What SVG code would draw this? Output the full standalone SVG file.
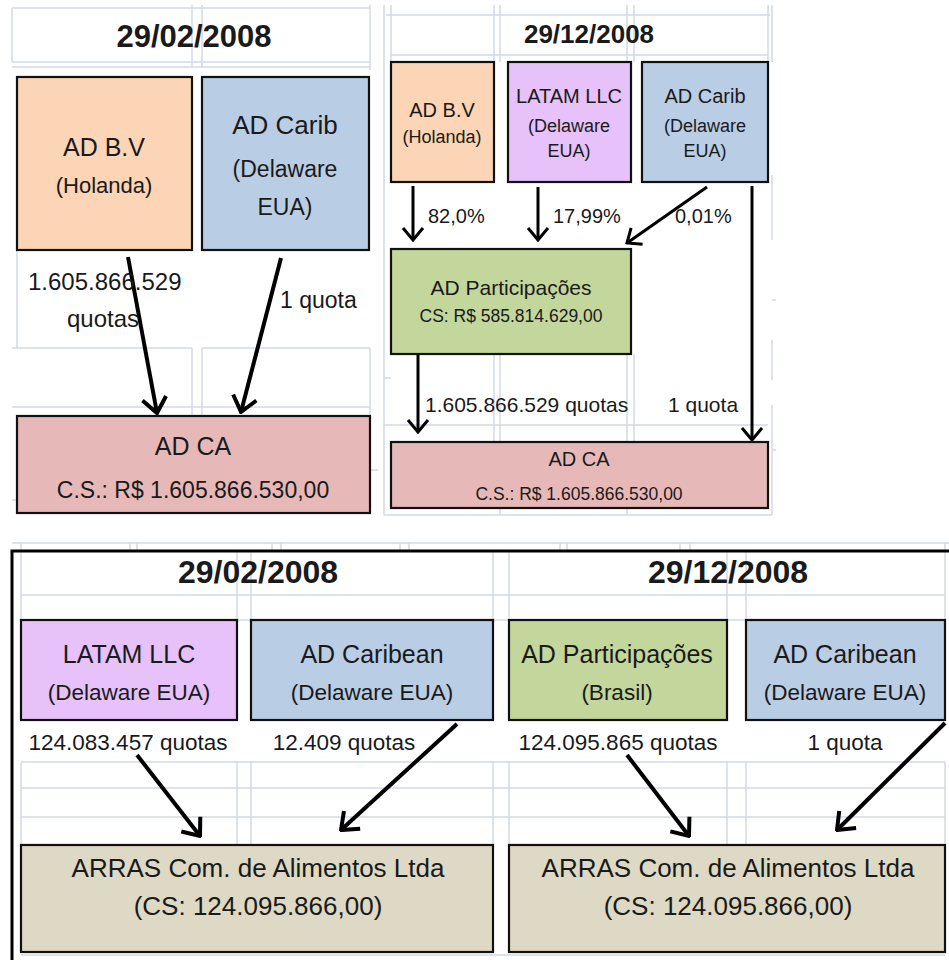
<svg xmlns="http://www.w3.org/2000/svg" width="949" height="960" viewBox="0 0 949 960">
<defs>
<style>
.grid{stroke:#d3d9e6;stroke-width:1.5;fill:none}
.box{stroke:#111;stroke-width:2.2}
.peach{fill:#fbd5b5}.blue{fill:#b9cde5}.lav{fill:#e6c1fa}.green{fill:#c3d69b}.pink{fill:#e6b9b8}.tan{fill:#ddd9c4}
text{font-family:"Liberation Sans",Arial,sans-serif;fill:#1a1a1a}
.c{text-anchor:middle}
.b{font-weight:bold}
.conn{stroke:#000;fill:none}
.thick{stroke-width:4}
.thin{stroke-width:3}
</style>
<marker id="ah" markerUnits="userSpaceOnUse" viewBox="-18 -15 20 30" refX="0" refY="0" markerWidth="20" markerHeight="30" orient="auto">
<path d="M-15,-12 L0,0 L-15,12" fill="none" stroke="#000" stroke-width="4" stroke-linejoin="miter"/>
</marker>
<marker id="as" markerUnits="userSpaceOnUse" viewBox="-15 -12 17 24" refX="0" refY="0" markerWidth="17" markerHeight="24" orient="auto">
<path d="M-12,-10 L0,0 L-12,10" fill="none" stroke="#000" stroke-width="3" stroke-linejoin="miter"/>
</marker>
</defs>

<g id="gridlines">
<!-- top-left -->
<path class="grid" d="M12,8 H370 M12,62 H370 M12,67 H370 M12,8 V62 M192,5 V67 M202,5 V67 M370,5 V70 M17,250 V348 M12,348 H192 M202,348 H370 M192,348 V416 M202,348 V416 M370,348 V416 M12,407 H370 M12,500 H17 M370,470 H378"/>
<!-- top-right -->
<path class="grid" d="M384,5 V515 M391,5 V62 M386,15 H770 M391,15 V55 M391,55 H768 M494,5 V62 M500,5 V62 M627,5 V62 M634,5 V62 M768,5 V62 M772,5 V62 M494,354 V442 M500,354 V442 M627,354 V442 M634,354 V442 M384,378 H391 M384,425 H768 M772,175 V240 M772,340 V380 M772,405 V515 M772,300 H776 M772,450 H776 M384,515 H772 M500,508 V515 M627,508 V515"/>
<!-- bottom -->
<path class="grid" d="M12,543 H949 M21,543 V620 M130,543 V551 M137,543 V551 M272,543 V551 M281,543 V551 M400,543 V551 M409,543 V551 M560,543 V551 M567,543 V551 M680,543 V551 M690,543 V551 M945,543 V620 M21,595 H945 M21,620 H945 M237,551 V620 M251,551 V620 M493,551 V620 M509,551 V620 M727,551 V620 M746,551 V620 M21,762 V845 M237,762 V845 M251,762 V845 M493,762 V845 M509,762 V845 M727,762 V845 M746,762 V845 M945,762 V845 M21,762 H945 M21,788 H945 M21,817 H945 M21,955 H945"/>
</g>

<g id="connectors">
<line class="conn thick" x1="128" y1="257" x2="157" y2="413" marker-end="url(#ah)"/>
<line class="conn thick" x1="281" y1="258" x2="241" y2="412" marker-end="url(#ah)"/>
<line class="conn thin" x1="413" y1="186" x2="413" y2="240" marker-end="url(#as)"/>
<line class="conn thin" x1="538" y1="187" x2="538" y2="240" marker-end="url(#as)"/>
<line class="conn thin" x1="707" y1="187" x2="627" y2="243" marker-end="url(#as)"/>
<line class="conn thin" x1="752" y1="186" x2="752" y2="440" marker-end="url(#as)"/>
<line class="conn thin" x1="418" y1="354" x2="418" y2="432" marker-end="url(#as)"/>
<line class="conn thick" x1="137" y1="755" x2="200" y2="836" marker-end="url(#ah)"/>
<line class="conn thick" x1="457" y1="724" x2="341" y2="830" marker-end="url(#ah)"/>
<line class="conn thick" x1="627" y1="755" x2="689" y2="836" marker-end="url(#ah)"/>
<line class="conn thick" x1="945" y1="723" x2="837" y2="830" marker-end="url(#ah)"/>
</g>

<g id="labels">
<text class="c b" x="194" y="47" font-size="31">29/02/2008</text>
<text class="c b" x="589" y="43" font-size="26">29/12/2008</text>
<text x="28" y="290" font-size="24">1.605.866.529</text>
<text class="c" x="103" y="327" font-size="24">quotas</text>
<text x="280" y="308" font-size="23">1 quota</text>
<text x="428" y="223" font-size="20">82,0%</text>
<text x="553" y="223" font-size="20">17,99%</text>
<text x="675" y="223" font-size="20">0,01%</text>
<text x="425" y="412" font-size="21">1.605.866.529 quotas</text>
<text x="668" y="412" font-size="21">1 quota</text>
<text class="c b" x="258" y="583" font-size="32">29/02/2008</text>
<text class="c b" x="728" y="583" font-size="32">29/12/2008</text>
<text class="c" x="128" y="750" font-size="22.5">124.083.457 quotas</text>
<text class="c" x="344" y="750" font-size="22.5">12.409 quotas</text>
<text class="c" x="618" y="750" font-size="22.5">124.095.865 quotas</text>
<text class="c" x="845" y="750" font-size="22.5">1 quota</text>
</g>

<g id="tl-adbv"><rect class="box peach" x="17" y="77" width="175" height="173"/>
<text class="c" x="104" y="156" font-size="25">AD B.V</text>
<text class="c" x="104" y="193" font-size="22">(Holanda)</text></g>

<g id="tl-adcarib"><rect class="box blue" x="202" y="77" width="167" height="173"/>
<text class="c" x="285" y="134" font-size="26">AD Carib</text>
<text class="c" x="285" y="177" font-size="23">(Delaware</text>
<text class="c" x="285" y="215" font-size="23">EUA)</text></g>

<g id="tl-adca"><rect class="box pink" x="17" y="416" width="353" height="97"/>
<text class="c" x="193" y="455" font-size="25">AD CA</text>
<text class="c" x="193" y="498" font-size="23">C.S.: R$ 1.605.866.530,00</text></g>

<g id="tr-adbv"><rect class="box peach" x="391" y="62" width="103" height="120"/>
<text class="c" x="442" y="117" font-size="20">AD B.V</text>
<text class="c" x="442" y="143" font-size="18">(Holanda)</text></g>

<g id="tr-latam"><rect class="box lav" x="508" y="62" width="123" height="120"/>
<text class="c" x="569" y="103" font-size="20">LATAM LLC</text>
<text class="c" x="569" y="132" font-size="18">(Delaware</text>
<text class="c" x="569" y="157" font-size="18">EUA)</text></g>

<g id="tr-adcarib"><rect class="box blue" x="642" y="62" width="126" height="120"/>
<text class="c" x="705" y="103" font-size="20">AD Carib</text>
<text class="c" x="705" y="132" font-size="18">(Delaware</text>
<text class="c" x="705" y="157" font-size="18">EUA)</text></g>

<g id="tr-adpart"><rect class="box green" x="391" y="249" width="240" height="105"/>
<text class="c" x="511" y="295" font-size="21">AD Participações</text>
<text class="c" x="511" y="322" font-size="17.5">CS: R$ 585.814.629,00</text></g>

<g id="tr-adca"><rect class="box pink" x="391" y="442" width="377" height="66"/>
<text class="c" x="579" y="466" font-size="20">AD CA</text>
<text class="c" x="579" y="500" font-size="17.5">C.S.: R$ 1.605.866.530,00</text></g>

<g id="bottom-frame">
<path d="M12,551 H949 M12,549.5 V960" stroke="#000" stroke-width="3" fill="none"/>
</g>

<g id="bl-latam"><rect class="box lav" x="21" y="620" width="216" height="100"/>
<text class="c" x="129" y="663" font-size="25">LATAM LLC</text>
<text class="c" x="129" y="700" font-size="22.5">(Delaware EUA)</text></g>

<g id="bl-adcaribean"><rect class="box blue" x="251" y="620" width="242" height="100"/>
<text class="c" x="372" y="663" font-size="25">AD Caribean</text>
<text class="c" x="372" y="700" font-size="22.5">(Delaware EUA)</text></g>

<g id="br-adpart"><rect class="box green" x="509" y="620" width="218" height="100"/>
<text class="c" x="617" y="663" font-size="25">AD Participações</text>
<text class="c" x="617" y="700" font-size="22.5">(Brasil)</text></g>

<g id="br-adcaribean"><rect class="box blue" x="746" y="620" width="199" height="100"/>
<text class="c" x="845" y="663" font-size="25">AD Caribean</text>
<text class="c" x="845" y="700" font-size="22.5">(Delaware EUA)</text></g>

<g id="bl-arras"><rect class="box tan" x="21" y="845" width="472" height="107"/>
<text class="c" x="258" y="877" font-size="26">ARRAS Com. de Alimentos Ltda</text>
<text class="c" x="258" y="915" font-size="26">(CS: 124.095.866,00)</text></g>

<g id="br-arras"><rect class="box tan" x="509" y="845" width="436" height="107"/>
<text class="c" x="728" y="877" font-size="26">ARRAS Com. de Alimentos Ltda</text>
<text class="c" x="728" y="915" font-size="26">(CS: 124.095.866,00)</text></g>
</svg>
